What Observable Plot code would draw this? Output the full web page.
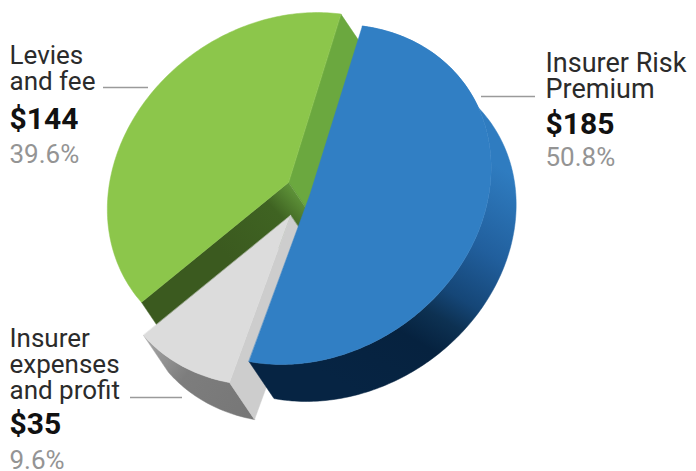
<!DOCTYPE html>
<html>
<head>
<meta charset="utf-8">
<script src="https://cdn.jsdelivr.net/npm/d3@7"></script>
<script src="https://cdn.jsdelivr.net/npm/@observablehq/plot@0.6"></script>
<style>
  html, body { margin: 0; padding: 0; background: #fff; }
  svg { display: block; }
</style>
</head>
<body>
<div id="chart"></div>
<script>
// Breakdown of the premium, one entry per slice, clockwise round the pie
const categories = ["Insurer Risk\nPremium", "Insurer\nexpenses\nand profit", "Levies\nand fee"];
const amounts = [185, 35, 144];
const shares = [50.8, 9.6, 39.6];

// Exploded centre of each slice and the slice colours
const centres = [[309.5, 194], [290, 215], [288, 182]];
const topColours = ["#317fc4", "#dcdcdc", "#8cc64b"];

// Disc projection: first bearing, semi-axes, bearing of the long axis, extrusion vector
const startBearing = 12.4;
const semiMajor = 190, semiMinor = 160, majorBearing = 56;
const depth = [25, 37];

// Label placement
const labelX = [545, 9, 9];
const nameSize = [27, 26, 26];
const nameBaseline = [97, 398, 89];
const amountBaseline = [133, 433, 128];
const shareBaseline = [165, 468.5, 162];
const leaders = [
  {x1: 481, x2: 535, y: 96},
  {x1: 130, x2: 182, y: 397},
  {x1: 103, x2: 148, y: 87}
];

const rad = Math.PI / 180;
const dir = b => [Math.sin(b * rad), -Math.cos(b * rad)];

// Point on the projected rim of a slice centred at c
function rimPoint(c, bearing) {
  const t = (bearing - majorBearing) * rad;
  const u = dir(majorBearing), v = dir(majorBearing + 90);
  return [
    c[0] + semiMajor * Math.cos(t) * u[0] + semiMinor * Math.sin(t) * v[0],
    c[1] + semiMajor * Math.cos(t) * u[1] + semiMinor * Math.sin(t) * v[1]
  ];
}
const shift = p => [p[0] + depth[0], p[1] + depth[1]];

// Angular extent comes from the share each slice stands for
const bounds = d3.cumsum(shares, s => s / 100 * 360).map(a => a + startBearing);
const slices = shares.map((s, i) => {
  const a0 = i ? bounds[i - 1] : startBearing, a1 = bounds[i];
  const arc = d3.range(a0, a1, 1).concat(a1).map(b => rimPoint(centres[i], b));
  return {
    top: [centres[i], ...arc],
    rim: [...arc, ...arc.map(shift).reverse()],
    startWall: [centres[i], arc[0], shift(arc[0]), shift(centres[i])],
    endWall: [centres[i], arc[arc.length - 1], shift(arc[arc.length - 1]), shift(centres[i])]
  };
});

const face = (points, fill) => Plot.line(points, {
  x: d => d[0], y: d => d[1], fill, stroke: fill, strokeWidth: 0.5, curve: "linear-closed"
});

// Gradients used for the shaded walls
function gradient(id, [x1, y1, x2, y2], stops) {
  const g = d3.create("svg:linearGradient")
    .attr("id", id).attr("gradientUnits", "userSpaceOnUse")
    .attr("x1", x1).attr("y1", y1).attr("x2", x2).attr("y2", y2);
  for (const [o, c] of stops) g.append("stop").attr("offset", o).attr("stop-color", c);
  return g.node();
}
const defs = () => {
  const d = d3.create("svg:defs");
  d.append(() => gradient("blueRim", [505, 170, 370, 400],
    [[0, "#2f7cc0"], [0.3, "#215f9d"], [0.5, "#154677"], [0.6, "#0d3152"], [0.72, "#06223f"], [1, "#062443"]]));
  d.append(() => gradient("greenWall", [300, 195, 230, 260],
    [[0, "#5f9439"], [0.3, "#3f6322"], [1, "#3b5a1f"]]));
  d.append(() => gradient("greyRim", [150, 340, 250, 410],
    [[0, "#a3a3a3"], [0.4, "#7d7d7d"], [1, "#777777"]]));
  return d.node();
};

const [blue, grey, green] = slices;

const text = (i, value, y, options) => Plot.text([value], {
  x: () => labelX[i], y: () => y, text: d => d,
  textAnchor: "start", lineAnchor: "bottom", fontFamily: "Roboto", ...options
});

const chart = Plot.plot({
  width: 696,
  height: 471,
  margin: 0,
  x: {domain: [0, 696], range: [0, 696], axis: null},
  y: {domain: [0, 471], range: [0, 471], axis: null},
  marks: [
    defs,
    // Levies slice
    face(green.endWall, "#6ba83f"),
    face(green.startWall, "url(#greenWall)"),
    face(green.top, topColours[2]),
    // Expenses slice
    face(grey.rim, "url(#greyRim)"),
    face(grey.startWall, "#cdcdcd"),
    face(grey.top, topColours[1]),
    // Risk premium slice
    face(blue.rim, "url(#blueRim)"),
    face(blue.top, topColours[0]),
    // Leader lines
    Plot.ruleY(leaders, {x1: "x1", x2: "x2", y: "y", stroke: "#9a9a9a", strokeWidth: 1.5}),
    // Labels
    ...categories.flatMap((name, i) => [
      text(i, name, nameBaseline[i], {fontSize: nameSize[i], lineHeight: 26 / nameSize[i], fill: "#2b2b2b"}),
      text(i, `$${amounts[i]}`, amountBaseline[i], {fontSize: 30, fontWeight: 700, fill: "#111"}),
      text(i, `${shares[i]}%`, shareBaseline[i], {fontSize: 26, fill: "#949494"})
    ])
  ]
});
document.getElementById("chart").append(chart);
</script>
</body>
</html>
